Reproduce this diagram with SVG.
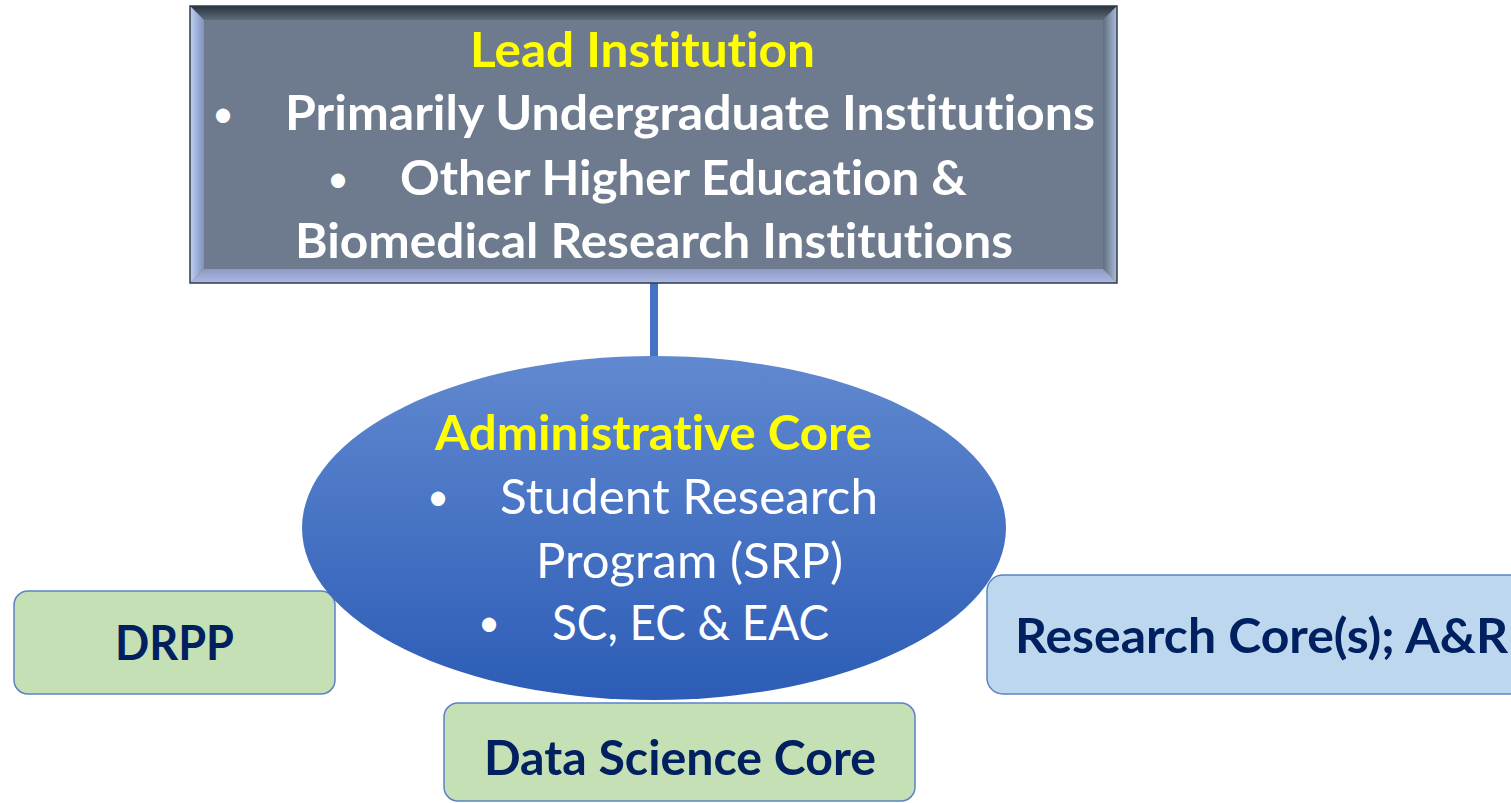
<svg xmlns="http://www.w3.org/2000/svg" width="1511" height="803" viewBox="0 0 1511 803">
  <defs>
    <linearGradient id="gTop" x1="0" y1="0" x2="0" y2="1">
      <stop offset="0" stop-color="#27333B"/>
      <stop offset="1" stop-color="#5E6C7A"/>
    </linearGradient>
    <linearGradient id="gLeft" x1="0" y1="0" x2="1" y2="0">
      <stop offset="0" stop-color="#C0D0F4"/>
      <stop offset="1" stop-color="#7F92BC"/>
    </linearGradient>
    <linearGradient id="gRight" x1="0" y1="0" x2="1" y2="0">
      <stop offset="0" stop-color="#5F6E80"/>
      <stop offset="1" stop-color="#A9BDDA"/>
    </linearGradient>
    <linearGradient id="gBottom" x1="0" y1="0" x2="0" y2="1">
      <stop offset="0" stop-color="#8E9AC4"/>
      <stop offset="1" stop-color="#AEB8E4"/>
    </linearGradient>
    <linearGradient id="gEll" x1="0" y1="0" x2="0" y2="1">
      <stop offset="0" stop-color="#6189D0"/>
      <stop offset="1" stop-color="#2C5CB6"/>
    </linearGradient>
  </defs>
  <style>
    text { font-variant-ligatures: none; font-feature-settings: "liga" 0, "clig" 0; }
    .b { font-family: Lato, "Open Sans", "Liberation Sans", sans-serif; font-weight: bold; font-size: 48px; }
    .r { font-family: Lato, "Open Sans", "Liberation Sans", sans-serif; font-weight: normal; font-size: 48px; }
    .bu { font-family: Lato, "Open Sans", "Liberation Sans", sans-serif; font-size: 38px; text-anchor: middle; }
    .yl { fill: #FFFF00; }
    .wh { fill: #FFFFFF; }
    .nv { fill: #002060; }
    .green { fill: #C5E0B4; stroke: #5B82C8; stroke-width: 1.5; }
    .blue { fill: #BDD7EE; stroke: #5B82C8; stroke-width: 1.5; }
  </style>
  <rect width="1511" height="803" fill="#FFFFFF"/>

  <g id="drpp">
    <rect class="green" x="14" y="591" width="321" height="103" rx="14"/>
    <text class="b nv" x="115" y="660" textLength="119" lengthAdjust="spacingAndGlyphs">DRPP</text>
  </g>

  <g id="data-science-core">
    <rect class="green" x="444" y="703" width="471" height="98" rx="14"/>
    <text class="b nv" x="484" y="775" textLength="392" lengthAdjust="spacingAndGlyphs">Data Science Core</text>
  </g>

  <g id="research-core">
    <rect class="blue" x="987" y="575" width="540" height="119" rx="16"/>
    <text class="b nv" x="1015" y="653" textLength="493" lengthAdjust="spacingAndGlyphs">Research Core(s); A&amp;R</text>
  </g>

  <g id="connectors">
    <line x1="654" y1="283" x2="654" y2="360" stroke="#4472C4" stroke-width="8"/>
  </g>

  <g id="administrative-core">
    <ellipse cx="654" cy="528" rx="352" ry="172" fill="url(#gEll)"/>
    <text class="b yl" x="435" y="450" textLength="437" lengthAdjust="spacingAndGlyphs">Administrative Core</text>
    <text class="bu wh" x="438" y="510">•</text>
    <text class="r wh" x="500" y="514" textLength="378" lengthAdjust="spacingAndGlyphs">Student Research</text>
    <text class="r wh" x="536" y="578" textLength="307" lengthAdjust="spacingAndGlyphs">Program (SRP)</text>
    <text class="bu wh" x="489" y="636">•</text>
    <text class="r wh" x="552" y="640" textLength="277" lengthAdjust="spacingAndGlyphs">SC, EC &amp; EAC</text>
  </g>

  <g id="lead-institution">
    <rect x="190" y="6" width="927" height="277" fill="#6E7B8E"/>
    <polygon points="190,6 1117,6 1103,20 204,20" fill="url(#gTop)"/>
    <polygon points="190,6 204,20 204,269 190,283" fill="url(#gLeft)"/>
    <polygon points="1117,6 1117,283 1103,269 1103,20" fill="url(#gRight)"/>
    <polygon points="190,283 204,269 1103,269 1117,283" fill="url(#gBottom)"/>
    <rect x="190" y="6" width="927" height="277" fill="none" stroke="#2F3B4A" stroke-width="1.5"/>
    <text class="b yl" x="470" y="67" textLength="345" lengthAdjust="spacingAndGlyphs">Lead Institution</text>
    <text class="bu wh" x="223" y="127">•</text>
    <text class="b wh" x="285" y="130" textLength="810" lengthAdjust="spacingAndGlyphs">Primarily Undergraduate Institutions</text>
    <text class="bu wh" x="338" y="192">•</text>
    <text class="b wh" x="400" y="195" textLength="567" lengthAdjust="spacingAndGlyphs">Other Higher Education &amp;</text>
    <text class="b wh" x="295" y="258" textLength="718" lengthAdjust="spacingAndGlyphs">Biomedical Research Institutions</text>
  </g>
</svg>
